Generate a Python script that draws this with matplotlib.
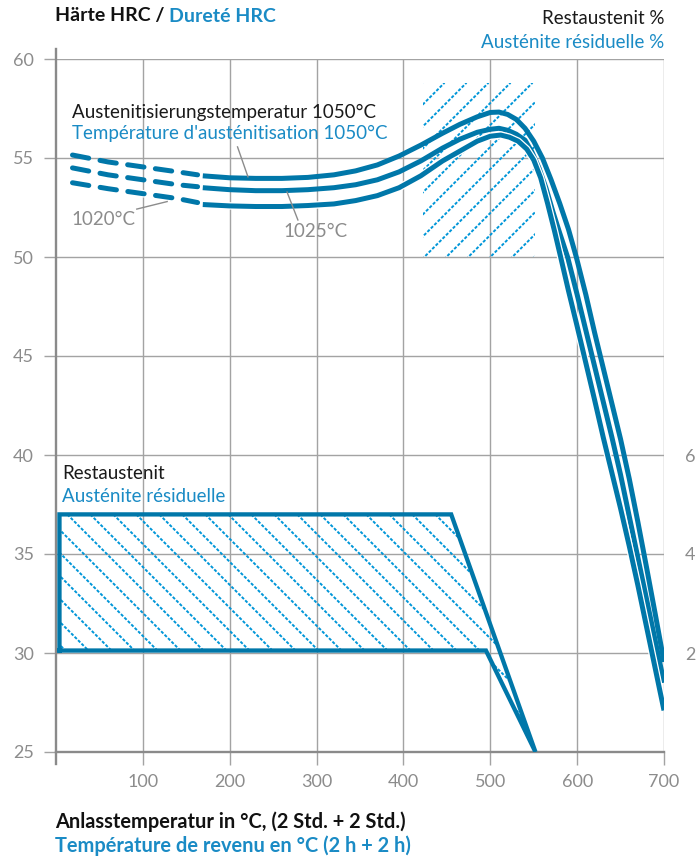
import matplotlib
matplotlib.use("Agg")
import matplotlib.pyplot as plt
import matplotlib.patheffects as pe
from matplotlib.patches import Polygon
import numpy as np

plt.rcParams['font.family'] = ['Lato', 'DejaVu Sans']

# hardness curves (tempering temp degC, HRC); dashed part = low-temp range
c1050_dash_x = [19, 60, 100, 140, 163]
c1050_dash_y = [55.15, 54.8, 54.55, 54.3, 54.15]
c1050_x = [169, 200, 230, 260, 290, 320, 345, 370, 395, 420, 445, 465, 485, 500, 510, 520, 530, 540, 550,
           560, 570, 580, 590, 599, 610, 620, 630, 640, 650, 660, 670, 680, 690, 700]
c1050_y = [54.1, 54.0, 53.97, 53.97, 54.02, 54.15, 54.35, 54.65, 55.1, 55.65, 56.25, 56.7, 57.08, 57.3, 57.32,
           57.2, 56.95, 56.5, 55.85, 55.0, 53.9, 52.7, 51.4, 50.0, 48.1, 46.2, 44.4, 42.6, 40.8, 38.8, 36.6,
           34.3, 31.95, 29.55]

c1025_dash_x = [19, 60, 100, 140, 163]
c1025_dash_y = [54.5, 54.15, 53.9, 53.65, 53.55]
c1025_x = [169, 200, 230, 260, 290, 320, 345, 370, 395, 420, 445, 465, 485, 500, 510, 520, 530, 540, 548,
           556, 564, 572, 580, 589, 600, 610, 620, 630, 640, 650, 660, 670, 680, 690, 700]
c1025_y = [53.5, 53.4, 53.35, 53.35, 53.4, 53.5, 53.65, 53.9, 54.3, 54.85, 55.5, 55.95, 56.3, 56.45, 56.5,
           56.4, 56.2, 55.9, 55.3, 54.5, 53.5, 52.3, 51.2, 50.0, 48.1, 46.3, 44.5, 42.7, 40.9, 39.0, 36.9,
           34.8, 32.7, 30.6, 28.5]

c1020_dash_x = [19, 60, 100, 140, 163]
c1020_dash_y = [53.75, 53.45, 53.2, 52.95, 52.75]
c1020_x = [169, 200, 230, 260, 290, 320, 345, 370, 395, 420, 445, 465, 485, 500, 512, 522, 532, 542, 550,
           558, 566, 574, 581, 590, 600, 610, 620, 630, 640, 650, 660, 670, 680, 690, 700]
c1020_y = [52.65, 52.58, 52.55, 52.55, 52.6, 52.68, 52.85, 53.1, 53.5, 54.1, 54.85, 55.35, 55.85, 56.1, 56.16,
           56.05, 55.85, 55.45, 54.9, 54.0, 52.7, 51.3, 50.0, 48.3, 46.5, 44.65, 42.8, 40.9, 39.1, 37.3, 35.4,
           33.4, 31.3, 29.2, 27.1]

# retained austenite (%), right axis
ra_x = [4, 4, 455, 552, 495, 4]
ra_y = [2.05, 4.8, 4.8, 0.0, 2.05, 2.05]

# secondary hardness zone (hatched area)
zone_x = [422, 551]
zone_y = [50.0, 58.8]

xticks = [100, 200, 300, 400, 500, 600, 700]
yticks = [25, 30, 35, 40, 45, 50, 55, 60]
rticks = [2, 4, 6]

BLUE = '#0077a9'
TBLUE = '#1a8bc5'
HBLUE = '#0096d8'
GRID = '#a3a3a3'
GRAY = '#8c8c8c'
FS = 13.5

fig = plt.figure(figsize=(6.98, 8.59), dpi=100)
ax = fig.add_axes([56/698, 107/859, 608/698, 693/859])
ax.set_xlim(0, 700)
ax.set_ylim(25, 60)
ax2 = ax.twinx()
ax2.set_ylim(0, 14)

for a in (ax, ax2):
    for s in a.spines.values():
        s.set_visible(False)

ax.set_xticks(xticks)
ax.set_yticks(yticks)
ax.grid(True, color=GRID, lw=1.0)
ax.set_axisbelow(True)
ax.tick_params(axis='both', colors=GRID, width=1.0, length=9, labelcolor=GRAY, labelsize=13)
ax.tick_params(axis='y', pad=7)
ax.tick_params(axis='x', pad=7)
ax2.set_yticks(rticks)
ax2.tick_params(axis='y', length=0, pad=15, labelcolor=GRAY, labelsize=13)

# left axis line and bottom axis line (extended past the plot)
ax.plot([0, 0], [24.4, 60.5], color='#8a8a8a', lw=1.7, clip_on=False, zorder=2)
ax.plot([0, 700], [25, 25], color='#8a8a8a', lw=1.7, clip_on=False, zorder=2)


def hatch(axis, patch, xr, yr, sign, spacing_px):
    p0 = axis.transData.transform((0, 0))
    p1 = axis.transData.transform((1, 1))
    sx, sy = p1[0] - p0[0], p1[1] - p0[1]
    m = sign * sx / sy
    step = spacing_px / sx
    span = (yr[1] - yr[0]) / abs(m)
    for x0 in np.arange(xr[0] - span, xr[1] + span, step):
        xs = np.array([x0 - span, x0 + span])
        ys = yr[0] + m * (xs - x0)
        ln, = axis.plot(xs, ys, color=HBLUE, lw=1.4, ls=(0, (1.6, 0.9)), zorder=3)
        ln.set_clip_path(patch)


# hatched hardness zone
zpoly = Polygon([(zone_x[0], zone_y[0]), (zone_x[0], zone_y[1]), (zone_x[1], zone_y[1]), (zone_x[1], zone_y[0])],
                closed=True, fill=False, lw=0)
ax.add_patch(zpoly)
hatch(ax, zpoly, zone_x, zone_y, 1, 22)

# retained austenite box
rpoly = Polygon(list(zip(ra_x[:5], ra_y[:5])), closed=True, fill=False, lw=0)
ax2.add_patch(rpoly)
hatch(ax2, rpoly, (ra_x[0], ra_x[3]), (0, 4.8), -1, 23)
ax2.plot(ra_x, ra_y, color=BLUE, lw=3.1, solid_joinstyle='miter', zorder=4)

# hardness curves; 1020 gets a white casing so it stays separated
LW = 3.6
dash = (0, (3.3, 2.3))
ax.plot(c1050_dash_x, c1050_dash_y, color=BLUE, lw=LW, ls=dash, dash_capstyle='round', zorder=5)
ax.plot(c1050_x, c1050_y, color=BLUE, lw=LW, solid_capstyle='butt', zorder=5)
ax.plot(c1025_dash_x, c1025_dash_y, color=BLUE, lw=LW, ls=dash, dash_capstyle='round', zorder=5)
ax.plot(c1025_x, c1025_y, color=BLUE, lw=LW, solid_capstyle='butt', zorder=5)
fx = [pe.Stroke(linewidth=LW + 1.8, foreground='white'), pe.Normal()]
ax.plot(c1020_dash_x, c1020_dash_y, color=BLUE, lw=LW, ls=dash, dash_capstyle='round', path_effects=fx, zorder=5)
ax.plot(c1020_x, c1020_y, color=BLUE, lw=LW, solid_capstyle='butt', path_effects=fx, zorder=5)

# annotations
ax.text(18, 57.3, 'Austenitisierungstemperatur 1050°C', color='#1a1a1a', fontsize=FS, va='center', zorder=6)
ax.text(18, 56.25, "Température d'austénitisation 1050°C", color=TBLUE, fontsize=FS, va='center', zorder=6)
ax.plot([209, 221], [55.56, 54.05], color=GRAY, lw=1.0, zorder=6)
ax.text(18, 51.9, '1020°C', color=GRAY, fontsize=FS, va='center', zorder=6)
ax.plot([93, 128], [52.42, 52.8], color=GRAY, lw=1.0, zorder=6)
ax.text(262, 51.3, '1025°C', color=GRAY, fontsize=FS, va='center', zorder=6)
ax.plot([266, 278.5], [53.28, 51.87], color=GRAY, lw=1.0, zorder=6)
ax.text(7, 39.05, 'Restaustenit', color='#1a1a1a', fontsize=FS, va='center', zorder=6)
ax.text(7, 37.9, 'Austénite résiduelle', color=TBLUE, fontsize=FS, va='center', zorder=6)

# headings
t = fig.text(55/698, 1 - 16/859, 'Härte HRC / ', color='#111111', fontsize=14, fontweight='bold', va='center')
fig.canvas.draw()
bb = t.get_window_extent()
fig.text(bb.x1/698, 1 - 16/859, 'Dureté HRC', color=TBLUE, fontsize=14, fontweight='bold', va='center')
fig.text(664/698, 1 - 18/859, 'Restaustenit %', color='#1a1a1a', fontsize=FS, ha='right', va='center')
fig.text(664/698, 1 - 42/859, 'Austénite résiduelle %', color=TBLUE, fontsize=FS, ha='right', va='center')
fig.text(55/698, 1 - 822/859, 'Anlasstemperatur in °C, (2 Std. + 2 Std.)', color='#111111', fontsize=14.4,
         fontweight='bold', va='center')
fig.text(55/698, 1 - 846/859, 'Température de revenu en °C (2 h + 2 h)', color=TBLUE, fontsize=14.4,
         fontweight='bold', va='center')

fig.savefig('out.png', dpi=100)
